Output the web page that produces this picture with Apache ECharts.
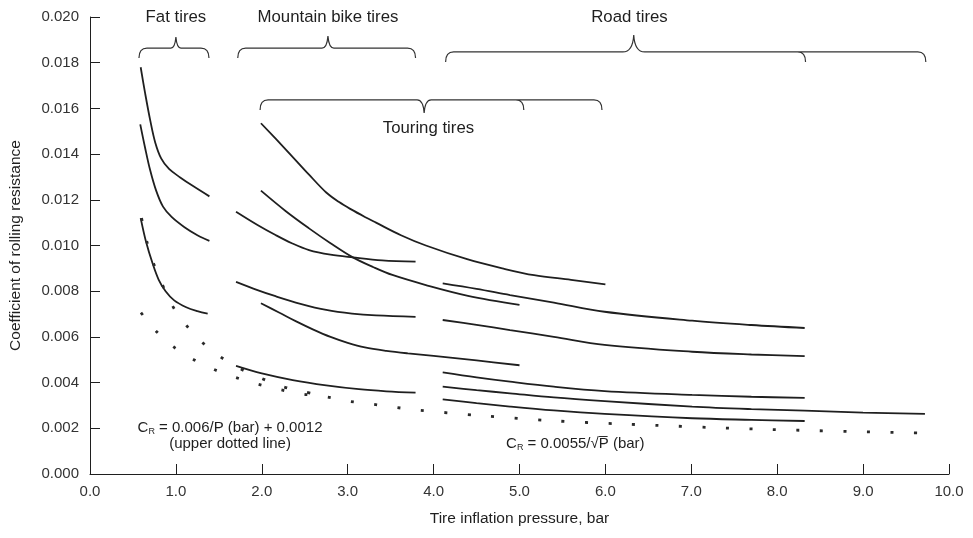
<!DOCTYPE html>
<html><head><meta charset="utf-8">
<script src="https://cdn.jsdelivr.net/npm/echarts@6/dist/echarts.min.js"></script>
<style>html,body{margin:0;padding:0;background:#fff}#c{width:973px;height:538px}</style>
</head><body><div id="c"></div>
<script>
// ---- data (pressure in bar, coefficient of rolling resistance) ----
const fatTop = [[0.59,0.0178],[0.64,0.0167],[0.70,0.0155],[0.76,0.0145],[0.83,0.0138],[0.92,0.01335],[1.05,0.01298],[1.2,0.0126],[1.39,0.01215]];
const fatMid = [[0.585,0.0153],[0.64,0.0143],[0.70,0.0133],[0.77,0.0124],[0.85,0.0117],[0.95,0.01125],[1.1,0.0108],[1.25,0.01045],[1.39,0.0102]];
const fatLow = [[0.59,0.0112],[0.65,0.0102],[0.73,0.0092],[0.80,0.0085],[0.88,0.0080],[0.98,0.0076],[1.12,0.0073],[1.25,0.00713],[1.37,0.00702]];

const mtbTop = [[1.7,0.01148],[1.95,0.0109],[2.16,0.01046],[2.35,0.0101],[2.55,0.0098],[2.8,0.0096],[3.06,0.00948],[3.4,0.00935],[3.79,0.00929]];
const mtbMid = [[1.7,0.00841],[1.95,0.00805],[2.16,0.00778],[2.45,0.00745],[2.75,0.00718],[3.05,0.00702],[3.33,0.00694],[3.79,0.00688]];
const mtbLow = [[1.7,0.00473],[2.0,0.0044],[2.36,0.00411],[2.75,0.00388],[3.13,0.00371],[3.45,0.00362],[3.79,0.00356]];

const tourTop = [[1.99,0.01535],[2.28,0.0142],[2.55,0.0131],[2.75,0.01232],[2.9,0.0119],[3.04,0.01158],[3.2,0.01125],[3.33,0.0110],[3.62,0.01045],[3.91,0.0100],[4.39,0.0094],[4.8,0.0090],[5.17,0.0087],[5.6,0.0085],[6.0,0.0083]];
const tourMid = [[1.99,0.0124],[2.28,0.0115],[2.55,0.01075],[2.8,0.0101],[3.06,0.00948],[3.3,0.00905],[3.52,0.00871],[3.91,0.00827],[4.4,0.0078],[5.0,0.0074]];
const tourLow = [[1.99,0.00747],[2.2,0.00707],[2.4,0.00668],[2.6,0.00632],[2.8,0.0060],[3.0,0.00574],[3.2,0.00554],[3.45,0.00539],[3.7,0.00528],[4.0,0.00517],[4.5,0.00497],[5.0,0.00476]];

const road1 = [[4.106,0.00834],[4.5,0.0081],[4.89,0.00783],[5.4,0.0075],[5.99,0.0071],[7.01,0.00671],[7.7,0.00652],[8.32,0.00639]];
const road2 = [[4.106,0.00674],[4.5,0.00653],[4.89,0.0063],[5.4,0.0060],[5.99,0.00565],[7.01,0.00535],[7.7,0.00523],[8.32,0.00516]];
const road3 = [[4.106,0.00445],[4.5,0.00423],[4.89,0.00404],[5.4,0.00382],[5.99,0.00363],[7.01,0.00346],[7.7,0.00338],[8.32,0.00333]];
const road4 = [[4.106,0.00382],[4.5,0.00367],[4.89,0.00353],[5.4,0.00335],[5.99,0.00319],[7.01,0.00295],[7.7,0.00284],[8.32,0.00277],[9.0,0.00269],[9.72,0.00263]];
const road5 = [[4.106,0.00327],[4.5,0.0031],[4.89,0.00295],[5.4,0.00278],[5.99,0.00263],[7.01,0.00244],[7.7,0.00237],[8.32,0.00232]];

// dotted reference lines
const upperDotted = [[0.6,0.0112],[0.66,0.0102],[0.73,0.0093],[0.95,0.00743],[1.11,0.00656],[1.29,0.00582],[1.5,0.00518],[1.7,0.0047],[1.97,0.00423],[2.22,0.00385],[2.49,0.0036],[2.75,0.0034]];
const lowerDotted = [[0.593,0.00706],[0.768,0.00626],[0.97,0.00557],[1.195,0.00503],[1.44,0.00458],[1.69,0.00423],[1.95,0.00394],[2.215,0.00369],[2.475,0.0035],[2.75,0.00338],[3.02,0.00318],[3.28,0.00306],[3.55,0.00292],[3.81,0.0028],[4.57,0.00255],[5.38,0.00233],[6.19,0.00219],[7.81,0.00196],[9.71,0.00179]];

const xTickValues = [0,1,2,3,4,5,6,7,8,9,10];
const yTickValues = [0,0.002,0.004,0.006,0.008,0.010,0.012,0.014,0.016,0.018,0.020];

// tire-group braces (pressure ranges)
const braceLabels = ['Fat tires','Mountain bike tires','Road tires','Touring tires'];
const braceEnds = [[0.57,1.385],[1.72,3.79],[4.14,8.33,9.73],[1.98,5.05,5.96]];
const bracePeaks = [1.0,2.77,6.33,3.89];
const braceLevels = [0.01864,0.01864,0.01847,0.01637];
const braceLabelX = [1.0,2.77,6.28,3.94];
const braceLabelY = [0.0200,0.0200,0.0200,0.01514];
const bracePointsUp = [true,true,true,false];

// ---- style ----
const FONT = '"Liberation Sans", Arial, sans-serif';
const INK = '#1f1f1f';
const peakSize = [[5,11],[6,12],[11,17],[7,13]]; // [half width, height] px

const solidSets = [fatTop,fatMid,fatLow,mtbTop,mtbMid,mtbLow,tourTop,tourMid,tourLow,road1,road2,road3,road4,road5];

const series = solidSets.map(d => ({
  type:'line', data:d, smooth:0.35, showSymbol:false, silent:true,
  lineStyle:{color:INK, width:1.8}
}));
[upperDotted, lowerDotted].forEach(d => series.push({
  type:'line', data:d, smooth:0.3, showSymbol:false, silent:true,
  lineStyle:{color:'#2a2a2a', width:2.8, type:[3,20.5], cap:'butt'}
}));

series.push({
  type:'custom', silent:true, clip:false,
  data: bracePeaks.map((p,i)=>[p, braceLevels[i]]),
  renderItem:function(params, api){
    const i = params.dataIndex;
    const lvl = braceLevels[i];
    const y = api.coord([0,lvl])[1];
    const px = v => api.coord([v,lvl])[0];
    const xs = braceEnds[i].map(px);
    const xl = xs[0], xr = xs[xs.length-1];
    const xp = px(bracePeaks[i]);
    const r = 8, tip = 10;
    const pw = peakSize[i][0];
    const ph = peakSize[i][1] * (bracePointsUp[i] ? -1 : 1);
    let d = 'M'+xl+','+(y+tip)+' Q'+xl+','+y+' '+(xl+r)+','+y+' L'+(xp-pw)+','+y+
      ' Q'+(xp-1)+','+y+' '+xp+','+(y+ph)+' Q'+(xp+1)+','+y+' '+(xp+pw)+','+y+
      ' L'+(xr-r)+','+y+' Q'+xr+','+y+' '+xr+','+(y+tip);
    for (let k=1;k<xs.length-1;k++){
      d += ' M'+(xs[k]-r)+','+y+' Q'+xs[k]+','+y+' '+xs[k]+','+(y+tip);
    }
    const lp = api.coord([braceLabelX[i], braceLabelY[i]]);
    return {type:'group', children:[
      {type:'path', shape:{pathData:d}, style:{fill:null, stroke:'#333', lineWidth:1.2}},
      {type:'text', style:{text:braceLabels[i], x:lp[0], y:lp[1], align:'center', verticalAlign:'middle',
        font:'16.8px '+FONT, fill:INK}}
    ]};
  }
});

// formula notes
const noteTexts = [
  '{t|C}{s|R}{t| = 0.006/P (bar) + 0.0012}\n{t|(upper dotted line)}',
  '{t|C}{s|R}{t| = 0.0055/\u221AP\u0305 (bar)}'
];
const noteAnchors = [[1.63,0.00166],[5.65,0.00131]];
series.push({
  type:'custom', silent:true, clip:false,
  data: noteAnchors,
  renderItem:function(params, api){
    const p = api.coord(noteAnchors[params.dataIndex]);
    return {type:'text', style:{text:noteTexts[params.dataIndex], x:p[0], y:p[1], align:'center', verticalAlign:'middle',
      rich:{
        t:{fontSize:15, fontFamily:'Liberation Sans', fill:INK, lineHeight:16},
        s:{fontSize:9, fontFamily:'Liberation Sans', fill:INK, lineHeight:6, verticalAlign:'bottom'}
      }}};
  }
});

const chart = echarts.init(document.getElementById('c'), null, {renderer:'canvas'});
chart.setOption({
  animation:false,
  backgroundColor:'#fff',
  grid:{left:89, right:24, top:17, bottom:64, containLabel:false},
  xAxis:{
    type:'value', min:0, max:10, interval:1,
    name:'Tire inflation pressure, bar', nameLocation:'middle', nameGap:37,
    nameTextStyle:{fontSize:15.5, fontFamily:FONT, color:INK},
    axisLine:{show:true, onZero:false, lineStyle:{color:INK, width:1}},
    axisTick:{show:true, inside:true, length:10, lineStyle:{color:INK}},
    axisLabel:{fontSize:15, fontFamily:FONT, color:'#333', margin:10, formatter:v=>v.toFixed(1)},
    splitLine:{show:false}
  },
  yAxis:{
    type:'value', min:0, max:0.02, interval:0.002,
    name:'Coefficient of rolling resistance', nameLocation:'middle', nameGap:66,
    nameTextStyle:{fontSize:15.5, fontFamily:FONT, color:INK},
    axisLine:{show:true, lineStyle:{color:INK, width:1}},
    axisTick:{show:true, inside:true, length:10, lineStyle:{color:INK}},
    axisLabel:{fontSize:15, fontFamily:FONT, color:'#333', margin:11, formatter:v=>v.toFixed(3)},
    splitLine:{show:false}
  },
  series:series
});
</script></body></html>
